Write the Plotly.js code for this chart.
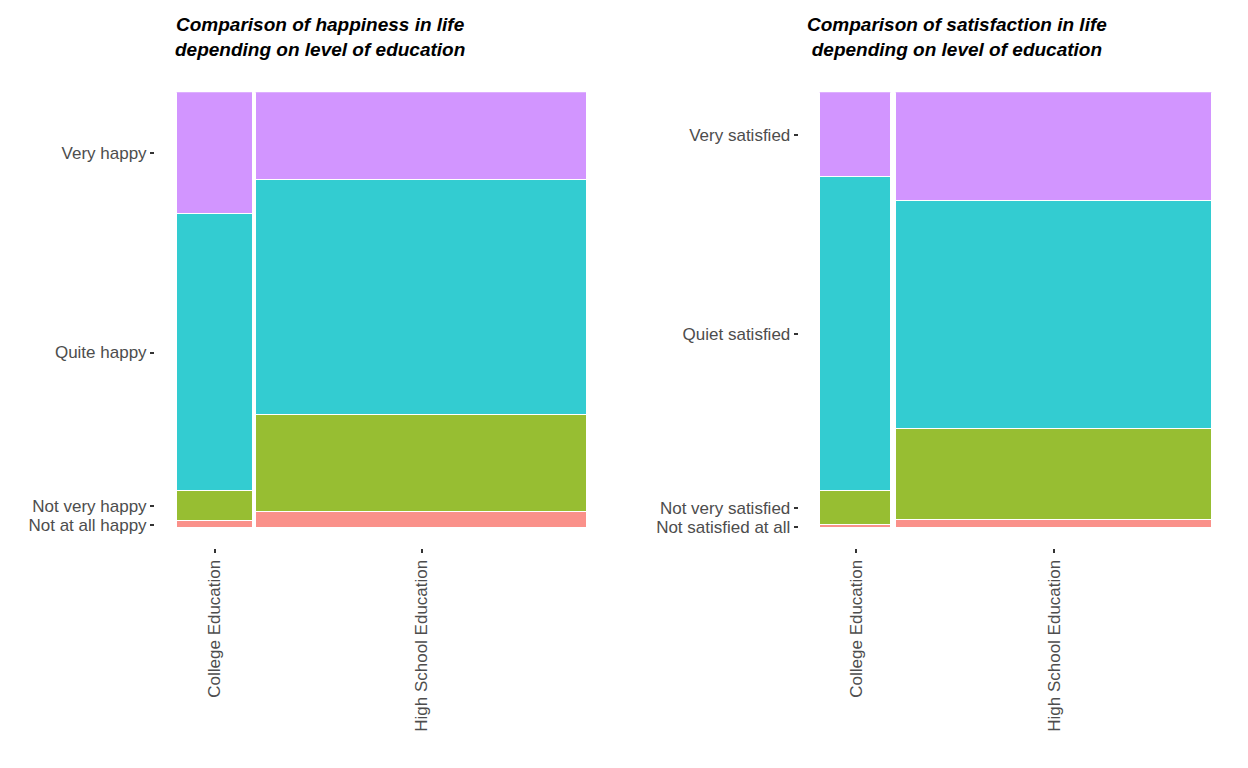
<!DOCTYPE html>
<html>
<head>
<meta charset="utf-8">
<script src="https://cdn.plot.ly/plotly-3.0.1.min.js"></script>
<style>body{margin:0;background:#fff}#chart{width:1248px;height:768px}</style>
</head>
<body>
<div id="chart"></div>
<script>
// education groups and their share of respondents (column widths)
const education = ["College Education", "High School Education"];
const eduShare = [0.19, 0.81];

// happiness levels, bottom to top, share within each education group
const happyLevels = ["Not at all happy", "Not very happy", "Quite happy", "Very happy"];
const happyCollege = [0.015, 0.07, 0.635, 0.28];
const happyHigh = [0.037, 0.222, 0.54, 0.201];

const satLevels = ["Not satisfied at all", "Not very satisfied", "Quiet satisfied", "Very satisfied"];
const satCollege = [0.006, 0.078, 0.72, 0.196];
const satHigh = [0.018, 0.208, 0.523, 0.251];

const levelColors = ["#FA918A", "#97BE32", "#33CCD1", "#D295FF"];

const gap = 0.008;
const centers = [eduShare[0] / 2, eduShare[0] + eduShare[1] / 2];
const widths = eduShare.map(w => w - gap);

function mosaic(levels, college, high, xa, ya) {
    return levels.map((lv, i) => ({
        type: 'bar', x: centers, y: [college[i], high[i]], width: widths,
        name: lv, xaxis: xa, yaxis: ya, showlegend: false,
        marker: {color: levelColors[i], line: {color: '#fff', width: 1.5}},
        hoverinfo: 'name+y'
    }));
}

// label positions: midpoints of the first column's segments
function midpoints(col) {
    let acc = 0;
    return col.map(v => { const m = acc + v / 2; acc += v; return m; });
}

const data = [
    ...mosaic(happyLevels, happyCollege, happyHigh, 'x', 'y'),
    ...mosaic(satLevels, satCollege, satHigh, 'x2', 'y2')
];

const tickFont = {family: 'Liberation Sans, Arial', size: 17, color: '#4d4d4d'};
function xax(dom) {
    return {domain: dom, range: [-0.05, 1], tickvals: centers, ticktext: education,
        tickangle: -90, ticks: 'outside', ticklen: 4, tickcolor: '#333', tickwidth: 1.5,
        showgrid: false, zeroline: false, showline: false, tickfont: tickFont, fixedrange: true};
}
function yax(levels, col, anchor) {
    return {domain: [0.2865, 0.88], range: [-0.046, 1], anchor: anchor,
        tickvals: midpoints(col), ticktext: levels, ticks: 'outside', ticklen: 4,
        tickcolor: '#333', tickwidth: 1.5, showgrid: false, zeroline: false,
        showline: false, tickfont: tickFont, fixedrange: true};
}

const titleFont = {family: 'Liberation Sans, Arial', size: 19, color: '#000'};
const layout = {
    width: 1248, height: 768, margin: {l: 0, r: 0, t: 0, b: 0},
    barmode: 'stack', bargap: 0, plot_bgcolor: '#fff', paper_bgcolor: '#fff',
    xaxis: xax([0.1242, 0.472]), yaxis: yax(happyLevels, happyCollege, 'x'),
    xaxis2: xax([0.640, 0.973]), yaxis2: yax(satLevels, satCollege, 'x2'),
    annotations: [
        {text: '<b><i>Comparison of happiness in life<br>depending on level of education</i></b>',
         xref: 'paper', yref: 'paper', x: 0.2565, y: 0.985, xanchor: 'center', yanchor: 'top',
         showarrow: false, font: titleFont},
        {text: '<b><i>Comparison of satisfaction in life<br>depending on level of education</i></b>',
         xref: 'paper', yref: 'paper', x: 0.7665, y: 0.985, xanchor: 'center', yanchor: 'top',
         showarrow: false, font: titleFont}
    ]
};

Plotly.newPlot('chart', data, layout, {displayModeBar: false});
</script>
</body>
</html>
